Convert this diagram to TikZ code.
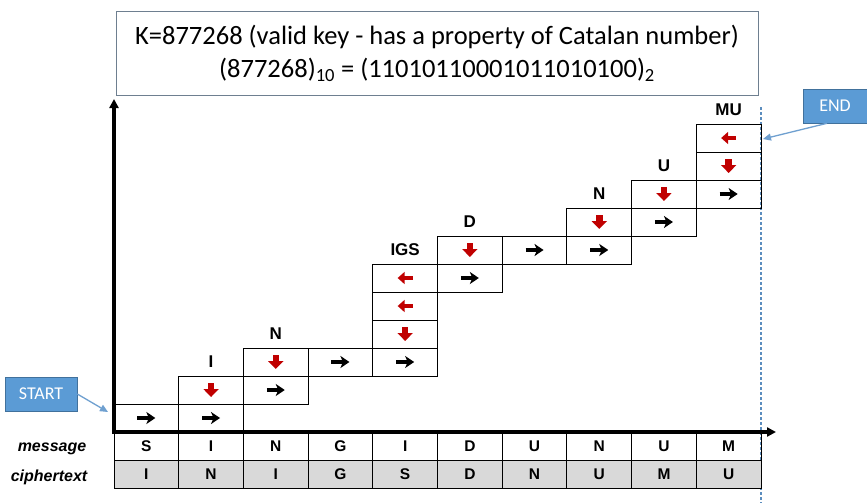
\documentclass[tikz,border=0pt]{standalone}
\usepackage{fontspec}
\setmainfont{Liberation Sans}
\newfontfamily\calib{Carlito}
\usetikzlibrary{arrows.meta}
\definecolor{redarr}{HTML}{C00000}
\definecolor{startblue}{HTML}{5B9BD5}
\definecolor{startedge}{HTML}{41719C}
\definecolor{pointer}{HTML}{6FA0D0}
\definecolor{graycell}{HTML}{D9D9D9}
\definecolor{boxedge}{HTML}{6E7F90}
\definecolor{dashblue}{HTML}{5B8DBE}
\begin{document}
\begin{tikzpicture}[x=1pt,y=-1pt,
  cell/.style={draw, line width=0.9pt, minimum width=64.7pt, minimum height=28pt, inner sep=0pt},
  tcell/.style={cell, font=\fontsize{15.5}{15.5}\selectfont\bfseries},
  ccell/.style={tcell, fill=graycell},
  lab/.style={font=\fontsize{17}{17}\selectfont\bfseries, inner sep=0pt},
  rowlab/.style={font=\fontsize{16}{16}\selectfont\bfseries\itshape, inner sep=0pt},
  blkarr/.style={line width=3.6pt, -{Stealth[length=9pt,width=12pt,inset=2.5pt]}},
  reddown/.style={redarr, line width=6.5pt, -{Triangle[length=8pt,width=15pt]}},
  redleft/.style={redarr, line width=4.5pt, -{Triangle[length=7pt,width=12pt]}},
  axis/.style={line width=3.4pt, -{Triangle[length=9pt,width=9pt]}},
  tag/.style={fill=startblue, draw=startedge, line width=0.6pt, text=white, font=\calib\fontsize{18}{18}\selectfont, minimum height=34pt, inner sep=0pt},
  pointerline/.style={pointer, line width=1.3pt, -{Triangle[length=8pt,width=7pt]}}
]
\useasboundingbox[fill=white] (0,0) rectangle (867,503);

% title box
\node[draw=boxedge, line width=1pt, minimum width=642pt, minimum height=83pt, align=center,
      font=\calib\fontsize{26.5}{33}\selectfont, inner sep=0pt] (title) at (437,53.5)
  {K=877268 (valid key - has a property of Catalan number)\\
   (877268)\textsubscript{10} = (11010110001011010100)\textsubscript{2}};

% dashed end line
\coordinate (dtop) at (761,107);
\coordinate (dbot) at (761,503);
\draw[dashblue, line width=1.2pt, dash pattern=on 3pt off 2pt] (dtop) -- (dbot);

% staircase cells
\foreach \k/\r [count=\i] in {0/1,1/1,2/2,3/3,4/3,5/6,6/7,7/7,8/8,9/9} {
  \node[cell] (r\i) at ({114+64.7*(\k+0.5)},{432-28*(\r-0.5)}) {};
  \draw[blkarr] ([xshift=-9pt]r\i.center) -- ([xshift=9pt]r\i.center);
}
\foreach \k/\r [count=\i] in {1/2,2/3,4/4,5/7,7/8,8/9,9/10} {
  \node[cell] (d\i) at ({114+64.7*(\k+0.5)},{432-28*(\r-0.5)}) {};
  \draw[reddown] ([yshift=7pt]d\i.center) -- ([yshift=-7pt]d\i.center);
}
\foreach \k/\r [count=\i] in {4/5,4/6,9/11} {
  \node[cell] (l\i) at ({114+64.7*(\k+0.5)},{432-28*(\r-0.5)}) {};
  \draw[redleft] ([xshift=7.5pt]l\i.center) -- ([xshift=-7.5pt]l\i.center);
}

% labels above columns
\foreach \k/\r/\t [count=\i] in {1/3/I,2/4/N,4/7/IGS,5/8/D,7/9/N,8/10/U,9/12/MU} {
  \node[lab] (lab\i) at ({114+64.7*(\k+0.5)},{432-28*(\r-0.5)}) {\t};
}

% message / ciphertext rows
\foreach \m/\c [count=\i from 0] in {S/I,I/N,N/I,G/G,I/S,D/D,U/N,N/U,U/M,M/U} {
  \node[tcell] (m\i) at ({114+64.7*(\i+0.5)},446) {\m};
  \node[ccell] (c\i) at ({114+64.7*(\i+0.5)},474) {\c};
}
\node[rowlab] (msg) at (52,449) {message};
\node[rowlab] (cip) at (49,477) {ciphertext};

% axes
\coordinate (origin) at (114,432);
\coordinate (ytop) at (114,99);
\coordinate (xend) at (776,432);
\draw[axis] (origin) -- (ytop);
\draw[axis] ([xshift=-1.7pt]origin) -- (xend);

% START / END tags
\node[tag, minimum width=72pt] (start) at (41,394) {START};
\coordinate (startpt) at (108,412);
\draw[pointerline] (start.east) -- (startpt);
\node[tag, minimum width=64pt] (endtag) at (835,106) {END};
\coordinate (endpt) at (763,139);
\draw[pointerline] ([xshift=-8pt]endtag.south) -- (endpt);
\end{tikzpicture}
\end{document}
